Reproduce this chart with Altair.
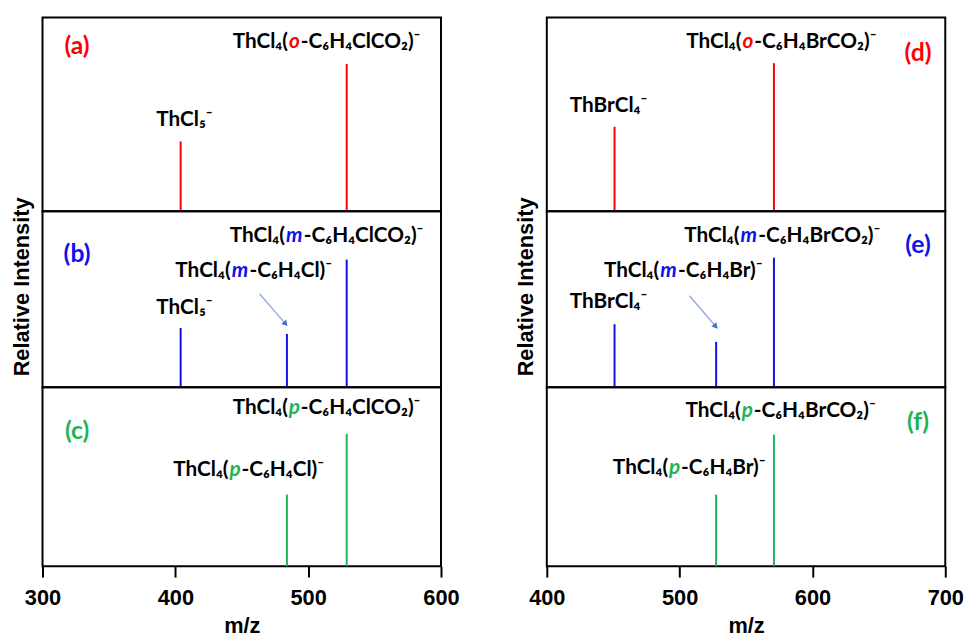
import altair as alt
import pandas as pd

RED = "#ff0000"
BLUE = "#1010e8"
GREEN = "#1fb356"
LF = "Lato"
AX = "Arial"

# ---- peak data (m/z, relative intensity as fraction of panel height) ----
a_mz = [404, 529]
a_int = [0.36, 0.76]
b_mz = [404, 484, 529]
b_int = [0.337, 0.303, 0.725]
c_mz = [484, 529]
c_int = [0.40, 0.74]
d_mz = [451, 571]
d_int = [0.436, 0.764]
e_mz = [451, 527.5, 571]
e_int = [0.358, 0.258, 0.736]
f_mz = [527.5, 571]
f_int = [0.40, 0.735]

# ---- panel tags: text, m/z, y ----
tag_text = ["(a)", "(b)", "(c)", "(d)", "(e)", "(f)"]
tag_mz = [326, 326, 326, 679.5, 679.5, 679.5]
tag_y = [0.81, 0.713, 0.711, 0.776, 0.76, 0.762]

# ---- plain labels ----
plain_a = (["ThCl₅⁻"], [406.9], [0.44])
plain_b = (["ThCl₅⁻"], [406.9], [0.414])
plain_c = ([], [], [])
plain_d = (["ThBrCl₄⁻"], [446.5], [0.511])
plain_e = (["ThBrCl₄⁻"], [446.5], [0.448])
plain_f = ([], [], [])

# ---- formula labels: prefix, italic letter, suffix, m/z (letter centre), y ----
form_a = (["ThCl₄("], "o", ["-C₆H₄ClCO₂)⁻"], [489.6], [0.84])
form_b = (["ThCl₄(", "ThCl₄("], "m", ["-C₆H₄ClCO₂)⁻", "-C₆H₄Cl)⁻"], [489.6, 448.7], [0.826, 0.624])
form_c = (["ThCl₄(", "ThCl₄("], "p", ["-C₆H₄ClCO₂)⁻", "-C₆H₄Cl)⁻"], [489.6, 444.9], [0.849, 0.504])
form_d = (["ThCl₄("], "o", ["-C₆H₄BrCO₂)⁻"], [551.4], [0.84])
form_e = (["ThCl₄(", "ThCl₄("], "m", ["-C₆H₄BrCO₂)⁻", "-C₆H₄Br)⁻"], [552.1, 491.7], [0.826, 0.629])
form_f = (["ThCl₄(", "ThCl₄("], "p", ["-C₆H₄BrCO₂)⁻", "-C₆H₄Br)⁻"], [550.9, 496.2], [0.836, 0.514])

# ---- arrows: start m/z, start y, end m/z, end y ----
arrow_b = [463.5, 0.53, 483.0, 0.36]
arrow_e = [507.4, 0.52, 527.2, 0.345]

LETTER_HALF = {"o": 6.5, "m": 9.5, "p": 6.5}


def panel(mz, inten, color, tag_i, plain, form, arrow, domain, height, bottom, ytitle):
    xs = alt.Scale(domain=domain, nice=False, zero=False)
    ys = alt.Scale(domain=[0, 1], nice=False)
    if bottom:
        xa = alt.Axis(values=list(range(domain[0], domain[1] + 1, 100)), title="m/z",
                      grid=False, domain=False, ticks=True, tickSize=11, tickWidth=2,
                      tickColor="black", labelFont=AX, labelFontSize=22,
                      labelFontWeight="bold", labelColor="black", labelPadding=11,
                      titleFont=AX, titleFontSize=22, titleFontWeight="bold",
                      titleColor="black", titlePadding=7, labelFlush=False)
    else:
        xa = None
    if ytitle:
        ya = alt.Axis(title="Relative Intensity", ticks=False, labels=False, domain=False,
                      grid=False, titleFont=AX, titleFontSize=22, titleFontWeight="bold",
                      titleColor="black", titlePadding=9, titleY=76)
    else:
        ya = None

    def X(f):
        return alt.X(f, type="quantitative", scale=xs, axis=xa)

    def Y(f):
        return alt.Y(f, type="quantitative", scale=ys, axis=ya)

    peaks = pd.DataFrame({"mz": mz, "inten": inten, "base": [0.0] * len(mz)})
    layers = [
        alt.Chart(peaks).mark_rule(color=color, strokeWidth=2).encode(
            x=X("mz"), y=Y("inten"), y2=alt.Y2("base"))
    ]
    tdf = pd.DataFrame({"t": [tag_text[tag_i]], "mz": [tag_mz[tag_i]], "y": [tag_y[tag_i]]})
    layers.append(alt.Chart(tdf).mark_text(font=LF, fontSize=25, fontWeight="bold",
                                           color=color, align="center",
                                           baseline="alphabetic").encode(
        x=X("mz"), y=Y("y"), text="t:N"))
    if plain[0]:
        pdf = pd.DataFrame({"t": plain[0], "mz": plain[1], "y": plain[2]})
        layers.append(alt.Chart(pdf).mark_text(font=LF, fontSize=21, fontWeight="bold",
                                               color="black", align="center",
                                               baseline="alphabetic").encode(
            x=X("mz"), y=Y("y"), text="t:N"))
    pre, letter, suf, fmz, fy = form
    w = LETTER_HALF[letter]
    fdf = pd.DataFrame({"pre": pre, "let": [letter] * len(pre), "suf": suf, "mz": fmz, "y": fy})
    base = alt.Chart(fdf)
    layers.append(base.mark_text(font=LF, fontSize=21, fontWeight="bold", color="black",
                                 align="right", baseline="alphabetic", dx=-w).encode(
        x=X("mz"), y=Y("y"), text="pre:N"))
    layers.append(base.mark_text(font=LF, fontSize=21, fontWeight="bold", fontStyle="italic",
                                 color=color, align="center", baseline="alphabetic").encode(
        x=X("mz"), y=Y("y"), text="let:N"))
    layers.append(base.mark_text(font=LF, fontSize=21, fontWeight="bold", color="black",
                                 align="left", baseline="alphabetic", dx=w).encode(
        x=X("mz"), y=Y("y"), text="suf:N"))
    if arrow:
        adf = pd.DataFrame({"x1": [arrow[0]], "y1": [arrow[1]], "x2": [arrow[2]], "y2": [arrow[3]]})
        layers.append(alt.Chart(adf).mark_rule(color="#8ea9db", strokeWidth=1.3).encode(
            x=X("x1"), y=Y("y1"), x2=alt.X2("x2"), y2=alt.Y2("y2")))
        layers.append(alt.Chart(adf).mark_point(shape="triangle-up", filled=True, size=45,
                                                color="#4472c4", angle=139, opacity=1).encode(
            x=X("x2"), y=Y("y2")))
    return alt.layer(*layers).properties(width=403, height=height)


H = [196, 178, 181]
L = [300, 600]
R = [400, 700]
chart = alt.concat(
    panel(a_mz, a_int, RED, 0, plain_a, form_a, None, L, H[0], False, False),
    panel(d_mz, d_int, RED, 3, plain_d, form_d, None, R, H[0], False, False),
    panel(b_mz, b_int, BLUE, 1, plain_b, form_b, arrow_b, L, H[1], False, True),
    panel(e_mz, e_int, BLUE, 4, plain_e, form_e, arrow_e, R, H[1], False, True),
    panel(c_mz, c_int, GREEN, 2, plain_c, form_c, None, L, H[2], True, False),
    panel(f_mz, f_int, GREEN, 5, plain_f, form_f, None, R, H[2], True, False),
    columns=2, spacing={"row": 0, "column": 107}, bounds="flush",
).properties(
    padding={"left": 9, "top": 13, "right": 5, "bottom": 0},
    background="white",
).configure_view(stroke="black", strokeWidth=2).resolve_scale(x="independent", y="independent")

chart.save("out.html", embed_options={"renderer": "svg", "actions": False})
